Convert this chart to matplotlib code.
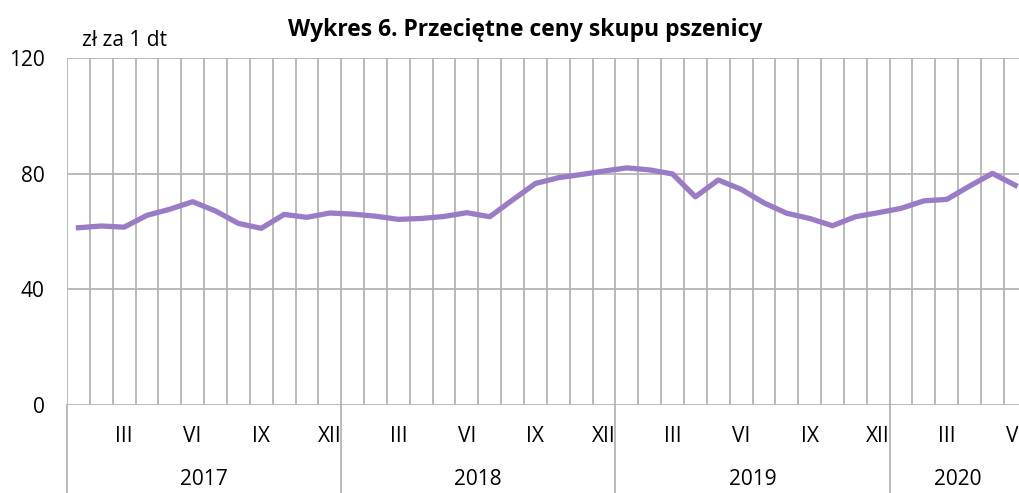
import matplotlib.pyplot as plt

# Monthly wheat purchase prices, Jan 2017 - Jun 2020 (zł za 1 dt)
years = ["2017", "2018", "2019", "2020"]
months_in_year = [12, 12, 12, 6]
month_labels = ["", "", "III", "", "", "VI", "", "", "IX", "", "", "XII"]
prices = [
    61.3, 61.9, 61.5, 65.6, 67.7, 70.3, 67.1, 62.8, 61.1, 65.9, 64.9, 66.4,
    66.0, 65.3, 64.2, 64.5, 65.2, 66.5, 65.1, 70.9, 76.6, 78.6, 79.7, 80.9,
    82.0, 81.3, 79.9, 72.0, 77.8, 74.6, 69.9, 66.3, 64.5, 62.0, 65.1, 66.5,
    68.0, 70.6, 71.1, 75.7, 80.1, 76.0,
]
yticks = [0, 40, 80, 120]

line_color = "#9a7cc6"
grid_color = "#b4b4b4"
fs = 15
plt.rcParams["font.family"] = ["Open Sans", "DejaVu Sans"]

fig = plt.figure(figsize=(10.19, 4.93), dpi=100)
n = len(prices)
# axes run past the right edge, like the cropped original
ax = fig.add_axes([67 / 1019, 88 / 493, n * 22.85 / 1019, 347 / 493])

x = [i + 0.5 for i in range(n)]
ax.plot(x, prices, color=line_color, lw=3.8, solid_joinstyle="round", zorder=3)

ax.set_xlim(0, n)
ax.set_ylim(0, 120)
ax.set_yticks(yticks)
ax.set_yticklabels([str(v) for v in yticks], fontsize=fs)
ax.tick_params(axis="y", length=0, pad=16)
ax.set_xticks([])

# grid: horizontal lines and one vertical line per month
for v in yticks:
    ax.axhline(v, color=grid_color, lw=1.3, zorder=1)
for i in range(n + 1):
    ax.axvline(i, color=grid_color, lw=1.3, zorder=1)
for s in ax.spines.values():
    s.set_visible(False)

# month and year labels under the axis
trans = ax.get_xaxis_transform()
start = 0
for y, cnt in zip(years, months_in_year):
    for m in range(cnt):
        lab = month_labels[m]
        if lab:
            ax.text(start + m + 0.5, -0.09, lab, transform=trans,
                    ha="center", va="center", fontsize=fs, clip_on=False)
    ax.text(start + cnt / 2, -0.215, y, transform=trans,
            ha="center", va="center", fontsize=fs, clip_on=False)
    start += cnt

edges = [0]
for cnt in months_in_year:
    edges.append(edges[-1] + cnt)
for e in edges:
    ax.plot([e, e], [0, -0.26], transform=trans, color=grid_color,
            lw=1.3, clip_on=False)

fig.text(82 / 1019, 1 - 40 / 493, "zł za 1 dt", fontsize=fs,
         ha="left", va="center")
fig.text(525 / 1019, 1 - 30 / 493, "Wykres 6. Przeciętne ceny skupu pszenicy",
         fontsize=16.5, fontweight="bold", ha="center", va="center")

fig.savefig("out.png", dpi=100)
